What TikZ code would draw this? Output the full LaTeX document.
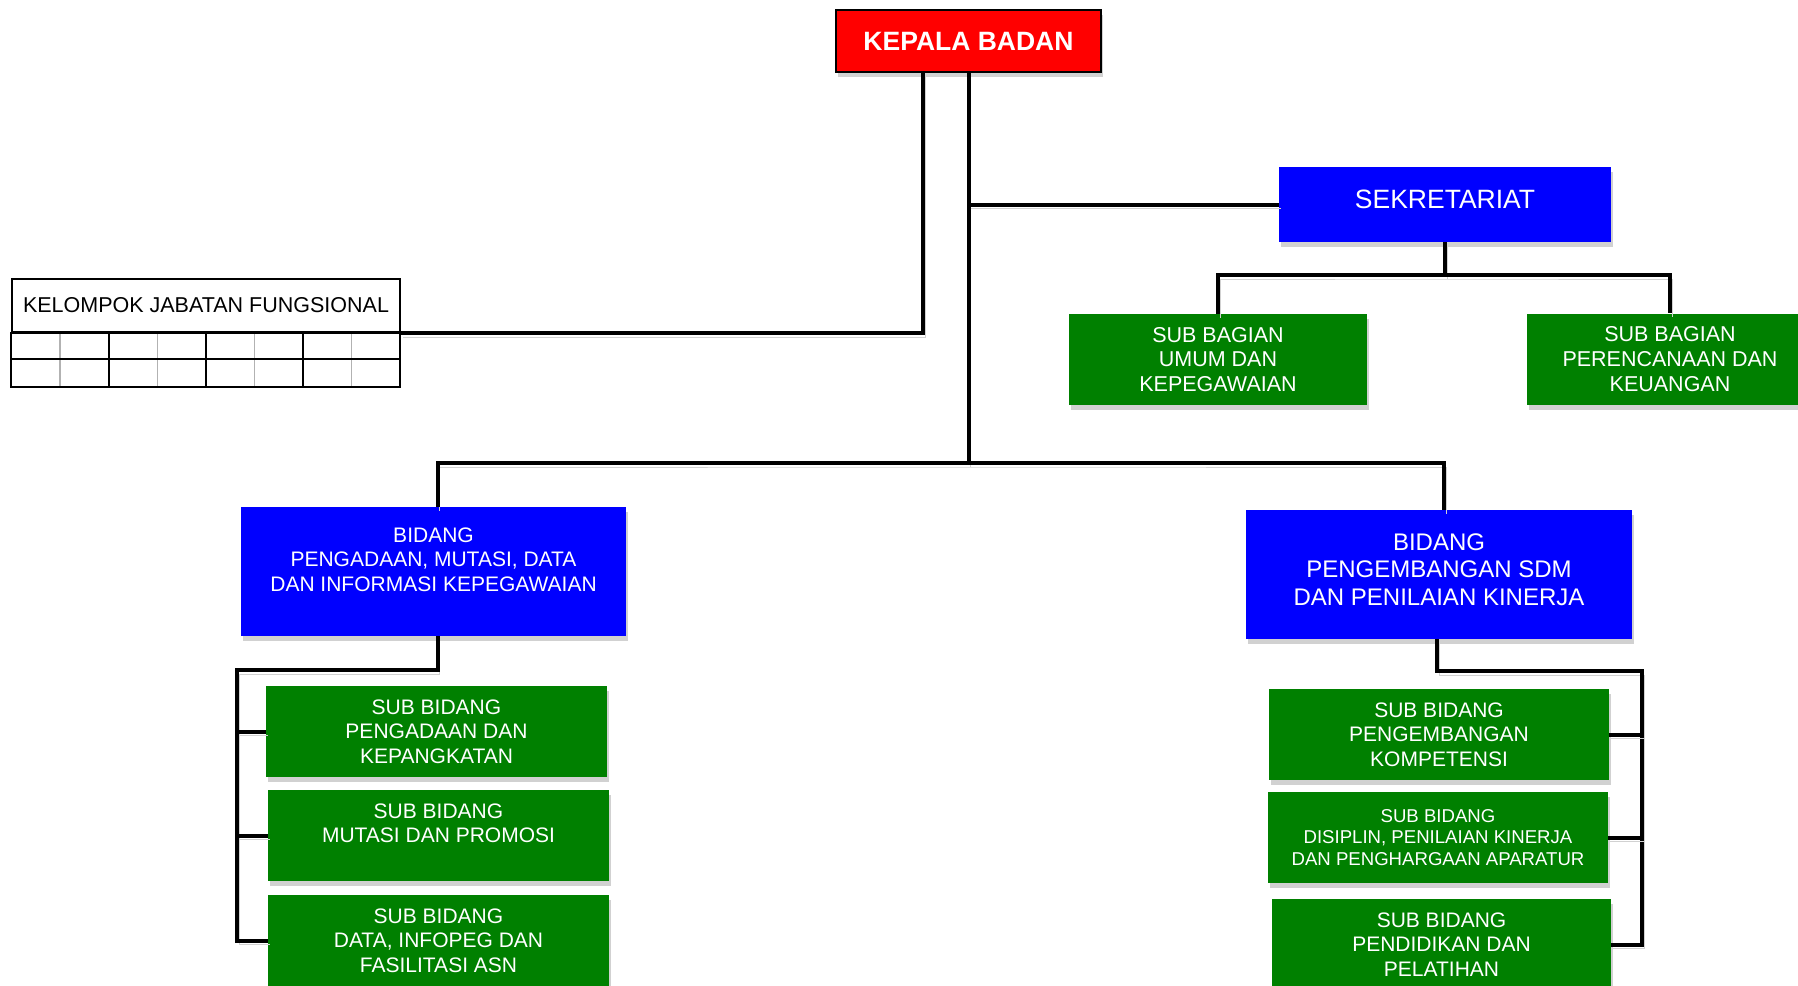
\documentclass[tikz,border=0pt]{standalone}
\usepackage{fontspec}
\setmainfont{Liberation Sans}
\usetikzlibrary{shadows}
\definecolor{merah}{RGB}{255,0,0}
\definecolor{biru}{RGB}{0,0,255}
\definecolor{hijau}{RGB}{0,128,0}
\begin{document}
\begin{tikzpicture}[x=1pt,y=-1pt,
	kotak/.style={text=white, inner sep=0pt, align=center, drop shadow={shadow xshift=2pt, shadow yshift=-5pt, fill=black!18, opacity=1}},
	bidang/.style={kotak, fill=biru, minimum height=129pt},
	sub/.style={kotak, fill=hijau, minimum height=91pt},
	link/.style={line width=4pt, preaction={draw=black!18, transform canvas={xshift=2pt, yshift=-4pt}}}]
	\useasboundingbox (0,0) rectangle (1798,985);
	\node (kepala) at (968.5, 41)	[kotak, fill=merah, draw=black, line width=2pt, minimum width=265pt, minimum height=62pt, font=\bfseries\fontsize{26.5}{30}\selectfont]	{KEPALA BADAN};
	\node (sekre) at (1445, 204.5)	[kotak, fill=biru, minimum width=332pt, minimum height=75pt, text depth=10pt, font=\fontsize{26.5}{30}\selectfont]	{SEKRETARIAT};
	\node (umum) at (1218, 359.5)	[sub, minimum width=298pt, font=\fontsize{21.5}{24.7}\selectfont]	{SUB BAGIAN\\UMUM DAN\\KEPEGAWAIAN};
	\node (rencana) at (1670, 359)	[sub, minimum width=286pt, font=\fontsize{21.5}{24.7}\selectfont]	{SUB BAGIAN\\PERENCANAAN DAN\\KEUANGAN};
	\node (kjf) at (206, 305.5)	[draw, line width=2pt, inner sep=0pt, minimum width=388pt, minimum height=53pt, font=\fontsize{21.5}{24}\selectfont]	{KELOMPOK JABATAN FUNGSIONAL};
	\node (bidkiri) at (433.5, 571.5)	[bidang, minimum width=385pt, font=\fontsize{21}{24.5}\selectfont]	{BIDANG\\PENGADAAN, MUTASI, DATA\\DAN INFORMASI KEPEGAWAIAN\\\mbox{}};
	\node (bidkanan) at (1439, 574.5)	[bidang, minimum width=386pt, font=\fontsize{24}{27.5}\selectfont]	{BIDANG\\PENGEMBANGAN SDM\\DAN PENILAIAN KINERJA\\[-17.5pt]\mbox{}};
	\node (kiri1) at (436.5, 731.5)	[sub, minimum width=341pt, font=\fontsize{21}{24.7}\selectfont]	{SUB BIDANG\\PENGADAAN DAN\\KEPANGKATAN};
	\node (kiri2) at (438.5, 835.5)	[sub, minimum width=341pt, font=\fontsize{21}{24.7}\selectfont]	{SUB BIDANG\\MUTASI DAN PROMOSI\\\mbox{}};
	\node (kiri3) at (438.5, 940.5)	[sub, minimum width=341pt, font=\fontsize{21}{24.7}\selectfont]	{SUB BIDANG\\DATA, INFOPEG DAN\\FASILITASI ASN};
	\node (kanan1) at (1439, 734.5)	[sub, minimum width=340pt, font=\fontsize{21}{24.7}\selectfont]	{SUB BIDANG\\PENGEMBANGAN\\KOMPETENSI};
	\node (kanan2) at (1438, 837.5)	[sub, minimum width=340pt, font=\fontsize{18.6}{21.2}\selectfont]	{SUB BIDANG\\DISIPLIN, PENILAIAN KINERJA\\DAN PENGHARGAAN APARATUR};
	\node (kanan3) at (1441.5, 944.5)	[sub, minimum width=339pt, font=\fontsize{21}{24.7}\selectfont]	{SUB BIDANG\\PENDIDIKAN DAN\\PELATIHAN};
	% kisi jabatan fungsional
	\foreach \kol in {60, 157.5, 254.5, 351.5}
		\draw[line width=1.5pt, black!30] (\kol, 332) -- (\kol, 387);
	\foreach \kol in {109, 206, 303}
		\draw[line width=2pt] (\kol, 332) -- (\kol, 387);
	\draw[line width=2pt] (kjf.south west) rectangle (400, 387);
	\draw[line width=2pt] (12, 359) -- (400, 359);
	% garis
	\coordinate (kepkiri) at (923, 72);
	\coordinate (pusat) at (968.5, 463);
	\coordinate (sekbawah) at (1445, 275);
	\coordinate (kiribawah) at (237, 670);
	\coordinate (kananbawah) at (1642, 671);
	\draw[link] (kepkiri) |- (kjf.south east);
	\draw[link] (kepala.south) -- (pusat);
	\draw[link] (kepala.south |- sekre.west) -- (sekre.west);
	\draw[link] ([xshift=4pt]bidkiri.north) |- (pusat) -| ([xshift=5pt]bidkanan.north);
	\draw[link] (sekre.south) -- (sekbawah);
	\draw[link] (umum.north) |- (sekbawah) -| (rencana.north);
	\draw[link] ([xshift=4pt]bidkiri.south) |- (kiribawah) |- (kiri3.west);
	\draw[link] (kiribawah |- kiri1.west) -- (kiri1.west);
	\draw[link] (kiribawah |- kiri2.west) -- (kiri2.west);
	\draw[link] ([xshift=-2pt]bidkanan.south) |- (kananbawah) |- (kanan3.east);
	\draw[link] (kananbawah |- kanan1.east) -- (kanan1.east);
	\draw[link] (kananbawah |- kanan2.east) -- (kanan2.east);
\end{tikzpicture}
\end{document}
